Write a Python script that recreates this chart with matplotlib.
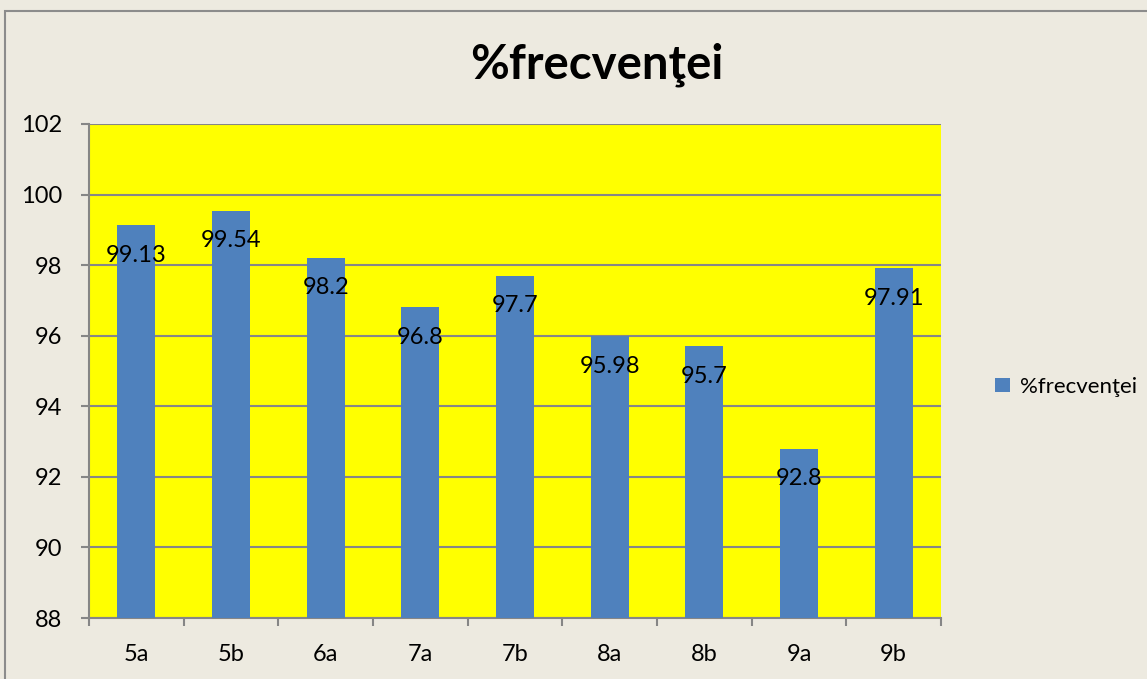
import matplotlib.pyplot as plt
from matplotlib.patches import Rectangle
import numpy as np

classes = ['5a', '5b', '6a', '7a', '7b', '8a', '8b', '9a', '9b']
freq = [99.13, 99.54, 98.2, 96.8, 97.7, 95.98, 95.7, 92.8, 97.91]
yticks = [88, 90, 92, 94, 96, 98, 100, 102]

bg = '#EDEAE0'
bar_color = '#4F81BD'
grid_color = '#868686'

plt.rcParams['font.family'] = ['Lato', 'DejaVu Sans']

fig = plt.figure(figsize=(11.47, 6.79), dpi=100, facecolor=bg)
ax = fig.add_axes([0.0776, 0.0898, 0.7428, 0.7276])
ax.set_facecolor('#FFFF00')

# outer chart border
fig.add_artist(Rectangle((5 / 1147, -0.01), 1.02, 1 - 11 / 679 + 0.01,
                         transform=fig.transFigure, fill=False,
                         edgecolor='#8C8C8C', linewidth=1.5))

x = np.arange(len(classes))
bars = ax.bar(x, freq, width=0.4, color=bar_color, zorder=3,
              label='%frecvenţei')

for xi, v in zip(x, freq):
    ax.annotate(f'{v:g}', (xi, v), xytext=(0, -21.5), textcoords='offset points',
                ha='center', va='center', fontsize=17, zorder=4)

ax.set_ylim(88, 102)
ax.set_xlim(-0.5, len(classes) - 0.5)
ax.set_yticks(yticks)
ax.yaxis.grid(True, color=grid_color, linewidth=1.5, zorder=1)
ax.set_axisbelow(True)

ax.set_xticks(x)
ax.set_xticklabels(classes)
ax.set_xticks(np.arange(len(classes) + 1) - 0.5, minor=True)
ax.tick_params(axis='x', which='major', length=0, labelsize=17, pad=19)
ax.tick_params(axis='x', which='minor', length=6, color=grid_color, width=1.5)
ax.tick_params(axis='y', length=6, color=grid_color, width=1.5, labelsize=17, pad=13)

for s in ['top', 'right']:
    ax.spines[s].set_visible(False)
for s in ['left', 'bottom']:
    ax.spines[s].set_color(grid_color)
    ax.spines[s].set_linewidth(1.5)

fig.text(0.5205, 0.905, '%frecvenţei', ha='center', va='center',
         fontsize=34, fontweight='bold')

ax.legend(loc='center left', bbox_to_anchor=(1.04, 0.468), frameon=False,
          fontsize=16, handlelength=0.65, handleheight=0.65, handletextpad=0.45)

plt.savefig('out.png', dpi=100, facecolor=bg)
